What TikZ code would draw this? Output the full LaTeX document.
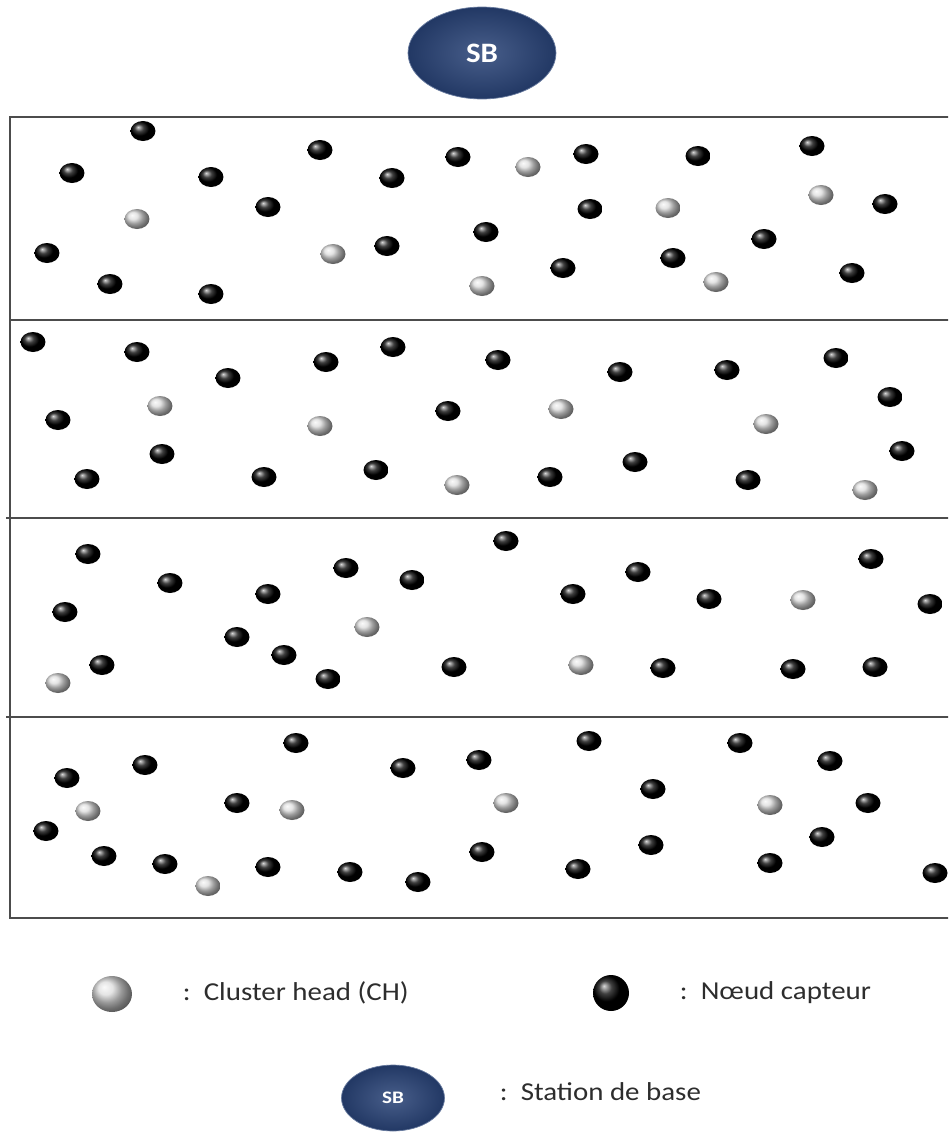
\documentclass[tikz,border=0pt]{standalone}
\usepackage{fontspec}
\setmainfont{Carlito}
\usetikzlibrary{shapes.geometric}
\definecolor{sbblue}{RGB}{40,66,118}
\definecolor{legendtext}{RGB}{45,45,45}
\begin{document}
\begin{tikzpicture}[x=0.02cm, y=-0.02cm,
    frame/.style={draw=black!70, line width=1.1pt},
    capteur/.style={ellipse, inner sep=0pt, minimum width=0.5cm, minimum height=0.4cm, ball color=black},
    clusterhead/.style={ellipse, inner sep=0pt, minimum width=0.5cm, minimum height=0.4cm, ball color=black!14},
    station/.style={ellipse, inner sep=0pt, draw=sbblue!70, inner color=sbblue!85!white, outer color=sbblue!85!black, text=white, font=\bfseries},
    legend/.style={anchor=west, text=legendtext, xscale=1.12, font=\fontsize{14.7}{17}\selectfont}
]
    \useasboundingbox (0,0) rectangle (948,1133);
    \clip (0,0) rectangle (948,1133);

    \node [station, minimum width=2.96cm, minimum height=1.84cm, font=\bfseries\fontsize{16}{18}\selectfont] (sb) at (482,53) {\scalebox{1.1}[1]{SB}};

    \draw [frame] (10,117) rectangle (980,918);
    \draw [frame] (10,320) -- (980,320);
    \draw [frame] (6,518) -- (980,518);
    \draw [frame] (6,717) -- (980,717);

    \foreach \x/\y [count=\i] in {72/173, 143/131, 211/177, 268/207, 320/150, 392/178, 458/157, 586/154, 698/156, 812/146, 885/204,
        590/209, 486/232, 387/246, 47/253, 110/284, 211/294, 563/268, 673/258, 764/239, 852/273,
        33/342, 137/352, 228/378, 326/362, 393/347, 498/360, 620/372, 727/370, 836/358, 890/397,
        58/420, 448/411, 162/454, 87/479, 264/477, 376/470, 550/477, 635/462, 748/480, 902/451,
        88/554, 506/541, 170/583, 346/568, 412/580, 638/572, 871/559, 65/612, 268/594, 573/594,
        709/599, 930/604, 237/637, 284/655, 102/665, 328/679, 454/667, 663/668, 793/669, 875/667,
        296/743, 589/741, 740/743, 67/778, 145/765, 403/768, 479/760, 830/761, 653/789, 237/803,
        868/803, 46/831, 822/837, 104/856, 165/864, 268/867, 350/872, 418/882, 482/852, 578/869,
        651/845, 770/863, 935/873}
        \node [capteur] (nc\i) at (\x,\y) {};

    \foreach \x/\y [count=\i] in {137/219, 333/254, 528/167, 668/208, 821/195, 482/286, 716/282,
        160/406, 320/426, 561/409, 766/424, 457/485, 865/490,
        367/627, 803/600, 58/683, 581/665,
        88/811, 292/810, 506/803, 770/805, 208/886}
        \node [clusterhead] (ch\i) at (\x,\y) {};

    \node [clusterhead, minimum width=0.8cm, minimum height=0.72cm] (chlegend) at (112,994) {};
    \node [legend] (chtext) at (176,993) {:~~Cluster head (CH)};
    \node [capteur, minimum width=0.72cm, minimum height=0.72cm] (nclegend) at (611,993) {};
    \node [legend] (nctext) at (673,993) {:~~Nœud capteur};
    \node [station, minimum width=2.06cm, minimum height=1.32cm, font=\bfseries\fontsize{10}{12}\selectfont] (sblegend) at (393,1098) {\scalebox{1.2}[1]{SB}};
    \node [legend] (sbtext) at (493,1092) {:~~Station de base};
\end{tikzpicture}
\end{document}
